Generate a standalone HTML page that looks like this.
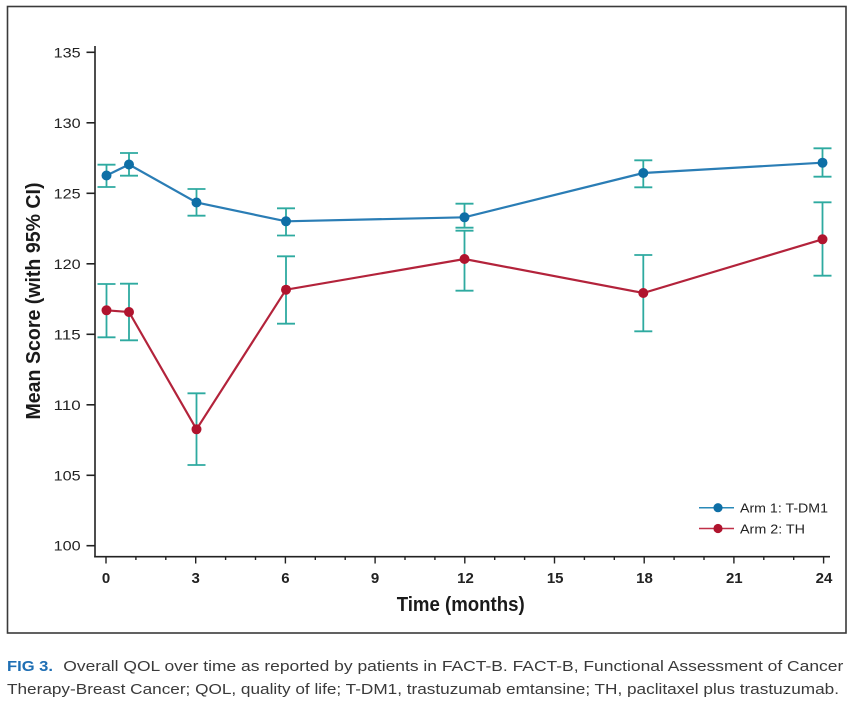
<!DOCTYPE html>
<html><head><meta charset="utf-8"><style>
html,body{margin:0;padding:0;background:#fff;}
svg{display:block;}
text{font-family:"Liberation Sans Narrow","Liberation Sans",sans-serif;}
</style></head><body>
<svg width="854" height="707" viewBox="0 0 854 707" xmlns="http://www.w3.org/2000/svg">
<rect x="0" y="0" width="854" height="707" fill="#fff"/>
<rect x="7.5" y="6.5" width="838.5" height="626.5" fill="none" stroke="#3a3a3a" stroke-width="1.6"/>
<!-- axes -->
<g stroke="#222" stroke-width="1.6" fill="none">
<line x1="95" y1="46" x2="95" y2="557.5"/>
<line x1="94.2" y1="556.7" x2="830" y2="556.7"/>
<!-- y ticks -->
<line x1="86.5" y1="52.3" x2="95" y2="52.3"/>
<line x1="86.5" y1="122.8" x2="95" y2="122.8"/>
<line x1="86.5" y1="193.3" x2="95" y2="193.3"/>
<line x1="86.5" y1="263.8" x2="95" y2="263.8"/>
<line x1="86.5" y1="334.3" x2="95" y2="334.3"/>
<line x1="86.5" y1="404.8" x2="95" y2="404.8"/>
<line x1="86.5" y1="475.3" x2="95" y2="475.3"/>
<line x1="86.5" y1="545.7" x2="95" y2="545.7"/>
</g>
<g stroke="#222" stroke-width="1.4">
<!-- major x ticks -->
<line x1="106" y1="556" x2="106" y2="563.5"/>
<line x1="195.7" y1="556" x2="195.7" y2="563.5"/>
<line x1="285.4" y1="556" x2="285.4" y2="563.5"/>
<line x1="375.1" y1="556" x2="375.1" y2="563.5"/>
<line x1="464.8" y1="556" x2="464.8" y2="563.5"/>
<line x1="554.5" y1="556" x2="554.5" y2="563.5"/>
<line x1="644.2" y1="556" x2="644.2" y2="563.5"/>
<line x1="733.9" y1="556" x2="733.9" y2="563.5"/>
<line x1="823.6" y1="556" x2="823.6" y2="563.5"/>
<!-- minor -->
<line x1="135.9" y1="556" x2="135.9" y2="560"/>
<line x1="165.8" y1="556" x2="165.8" y2="560"/>
<line x1="225.6" y1="556" x2="225.6" y2="560"/>
<line x1="255.5" y1="556" x2="255.5" y2="560"/>
<line x1="315.3" y1="556" x2="315.3" y2="560"/>
<line x1="345.2" y1="556" x2="345.2" y2="560"/>
<line x1="405" y1="556" x2="405" y2="560"/>
<line x1="434.9" y1="556" x2="434.9" y2="560"/>
<line x1="494.7" y1="556" x2="494.7" y2="560"/>
<line x1="524.6" y1="556" x2="524.6" y2="560"/>
<line x1="584.4" y1="556" x2="584.4" y2="560"/>
<line x1="614.3" y1="556" x2="614.3" y2="560"/>
<line x1="674.1" y1="556" x2="674.1" y2="560"/>
<line x1="704" y1="556" x2="704" y2="560"/>
<line x1="763.8" y1="556" x2="763.8" y2="560"/>
<line x1="793.7" y1="556" x2="793.7" y2="560"/>
</g>
<!-- y tick labels -->
<g font-size="14" fill="#222" text-anchor="end">
<text x="80.7" y="57.3" textLength="27" lengthAdjust="spacingAndGlyphs">135</text>
<text x="80.7" y="127.8" textLength="27" lengthAdjust="spacingAndGlyphs">130</text>
<text x="80.7" y="198.3" textLength="27" lengthAdjust="spacingAndGlyphs">125</text>
<text x="80.7" y="268.8" textLength="27" lengthAdjust="spacingAndGlyphs">120</text>
<text x="80.7" y="339.3" textLength="27" lengthAdjust="spacingAndGlyphs">115</text>
<text x="80.7" y="409.8" textLength="27" lengthAdjust="spacingAndGlyphs">110</text>
<text x="80.7" y="480.3" textLength="27" lengthAdjust="spacingAndGlyphs">105</text>
<text x="80.7" y="550.7" textLength="27" lengthAdjust="spacingAndGlyphs">100</text>
</g>
<!-- x tick labels -->
<g font-size="15" fill="#222" text-anchor="middle" font-weight="bold">
<text x="106" y="583">0</text>
<text x="195.7" y="583">3</text>
<text x="285.4" y="583">6</text>
<text x="375.1" y="583">9</text>
<text x="465.5" y="583">12</text>
<text x="555.2" y="583">15</text>
<text x="644.5" y="583">18</text>
<text x="734.3" y="583">21</text>
<text x="824" y="583">24</text>
</g>
<text x="396.7" y="611" font-size="20" font-weight="bold" fill="#1a1a1a" textLength="128" lengthAdjust="spacingAndGlyphs">Time (months)</text>
<text x="0" y="0" font-size="20" font-weight="bold" fill="#1a1a1a" text-anchor="middle" transform="translate(40,301) rotate(-90)" textLength="237" lengthAdjust="spacingAndGlyphs">Mean Score (with 95% CI)</text>

<!-- error bars -->
<g stroke="#2eaaa0" stroke-width="1.8" fill="none">
<path d="M106.5 164.7V187M97.5 164.7H115.5M97.5 187H115.5"/>
<path d="M129 153V175.7M120 153H138M120 175.7H138"/>
<path d="M196.5 189V215.7M187.5 189H205.5M187.5 215.7H205.5"/>
<path d="M286 208.3V235.5M277 208.3H295M277 235.5H295"/>
<path d="M464.5 203.7V227.7M455.5 203.7H473.5M455.5 227.7H473.5"/>
<path d="M643.3 160.3V187.3M634.3 160.3H652.3M634.3 187.3H652.3"/>
<path d="M822.5 148.3V176.7M813.5 148.3H831.5M813.5 176.7H831.5"/>
<path d="M106.5 284V337.3M97.5 284H115.5M97.5 337.3H115.5"/>
<path d="M129 283.7V340.3M120 283.7H138M120 340.3H138"/>
<path d="M196.5 393.3V465M187.5 393.3H205.5M187.5 465H205.5"/>
<path d="M286 256.3V323.7M277 256.3H295M277 323.7H295"/>
<path d="M464.5 230.7V290.7M455.5 230.7H473.5M455.5 290.7H473.5"/>
<path d="M643.3 255V331.3M634.3 255H652.3M634.3 331.3H652.3"/>
<path d="M822.5 202.3V275.7M813.5 202.3H831.5M813.5 275.7H831.5"/>
</g>
<!-- lines -->
<polyline fill="none" stroke="#2a7db5" stroke-width="2.2" points="106.5,175.5 129,164.5 196.5,202.5 286,221.3 464.5,217.3 643.3,173 822.5,162.7"/>
<polyline fill="none" stroke="#b3233b" stroke-width="2.2" points="106.5,310.3 129,312 196.5,429.3 286,289.7 464.5,259 643.3,293 822.5,239.3"/>
<!-- markers -->
<g fill="#0e6fa6">
<circle cx="106.5" cy="175.5" r="5"/><circle cx="129" cy="164.5" r="5"/><circle cx="196.5" cy="202.5" r="5"/><circle cx="286" cy="221.3" r="5"/><circle cx="464.5" cy="217.3" r="5"/><circle cx="643.3" cy="173" r="5"/><circle cx="822.5" cy="162.7" r="5"/>
</g>
<g fill="#b0142e">
<circle cx="106.5" cy="310.3" r="5"/><circle cx="129" cy="312" r="5"/><circle cx="196.5" cy="429.3" r="5"/><circle cx="286" cy="289.7" r="5"/><circle cx="464.5" cy="259" r="5"/><circle cx="643.3" cy="293" r="5"/><circle cx="822.5" cy="239.3" r="5"/>
</g>
<!-- legend -->
<line x1="699" y1="507.7" x2="734" y2="507.7" stroke="#2a8ab8" stroke-width="1.5"/>
<circle cx="718" cy="507.7" r="4.6" fill="#0e6fa6"/>
<line x1="699" y1="528.5" x2="734" y2="528.5" stroke="#c03048" stroke-width="1.5"/>
<circle cx="718" cy="528.5" r="4.6" fill="#b0142e"/>
<text x="740" y="512.5" font-size="13" fill="#222" textLength="88" lengthAdjust="spacingAndGlyphs">Arm 1: T-DM1</text>
<text x="740" y="533.5" font-size="13" fill="#222" textLength="65" lengthAdjust="spacingAndGlyphs">Arm 2: TH</text>
<!-- caption -->
<text x="7" y="671" font-size="15" font-weight="bold" fill="#1f6fb4" textLength="46" lengthAdjust="spacingAndGlyphs">FIG 3.</text>
<text x="63.3" y="671" font-size="15" fill="#3a3a3a" textLength="780" lengthAdjust="spacingAndGlyphs" style="font-family:'Liberation Sans',sans-serif">Overall QOL over time as reported by patients in FACT-B. FACT-B, Functional Assessment of Cancer</text>
<text x="7" y="694" font-size="15" fill="#3a3a3a" textLength="832" lengthAdjust="spacingAndGlyphs" style="font-family:'Liberation Sans',sans-serif">Therapy-Breast Cancer; QOL, quality of life; T-DM1, trastuzumab emtansine; TH, paclitaxel plus trastuzumab.</text>
</svg>
</body></html>
